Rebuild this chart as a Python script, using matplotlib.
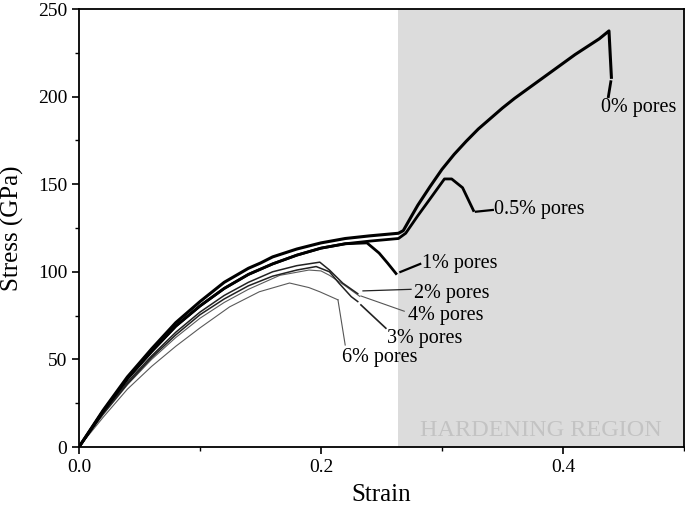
import matplotlib
matplotlib.use("Agg")
import matplotlib.pyplot as plt
from matplotlib.ticker import MultipleLocator

plt.rcParams['font.family'] = ['Liberation Serif', 'DejaVu Serif']

# curve data (strain, stress in GPa)
strain_0 = [0, 0.02, 0.04, 0.06, 0.08, 0.10, 0.12, 0.14, 0.15, 0.16, 0.18, 0.20, 0.22, 0.24, 0.264,
            0.268, 0.275, 0.28, 0.29, 0.30, 0.31, 0.32, 0.33, 0.34, 0.35, 0.36, 0.37, 0.38, 0.39,
            0.40, 0.41, 0.42, 0.43, 0.438, 0.440]
stress_0 = [0, 21, 40, 56, 71, 83, 94, 102, 105, 108.5, 113, 116.5, 119, 120.5, 122,
            123.5, 132, 138, 148.5, 158.5, 167, 174.5, 181.5, 187.5, 193.5, 199, 204, 209, 214,
            219, 224, 228.5, 233, 237.5, 211]

strain_05 = [0, 0.02, 0.04, 0.06, 0.08, 0.10, 0.12, 0.14, 0.16, 0.18, 0.20, 0.22, 0.24, 0.264,
             0.27, 0.28, 0.29, 0.302, 0.308, 0.317, 0.326]
stress_05 = [0, 20.5, 39, 54.5, 69, 80.5, 90.5, 98.5, 104.5, 109.5, 113.5, 116, 117.5, 119,
             122, 132, 141.5, 153, 153, 148, 135]

strain_1 = [0, 0.02, 0.04, 0.06, 0.08, 0.10, 0.12, 0.14, 0.16, 0.18, 0.20, 0.22, 0.238,
            0.248, 0.255, 0.262]
stress_1 = [0, 20.5, 39, 54.5, 69, 80.5, 90.5, 98.5, 104.5, 109.5, 113.5, 116, 116.5,
            110.7, 105, 99]

strain_2 = [0, 0.02, 0.04, 0.06, 0.08, 0.10, 0.12, 0.14, 0.16, 0.18, 0.199, 0.207, 0.218, 0.2304]
stress_2 = [0, 19.5, 37, 52, 65.5, 77, 86.5, 94, 100, 103.5, 105.5, 101, 93.5, 87.5]

strain_3 = [0, 0.02, 0.04, 0.06, 0.08, 0.10, 0.12, 0.14, 0.16, 0.18, 0.196, 0.207, 0.215, 0.225, 0.2304]
stress_3 = [0, 19, 36, 51, 64, 75.5, 84.5, 92, 97.5, 101, 103, 100, 93.4, 85.8, 83]

strain_4 = [0, 0.02, 0.04, 0.06, 0.08, 0.10, 0.12, 0.14, 0.166, 0.175, 0.19, 0.20, 0.207, 0.22, 0.232]
stress_4 = [0, 18.5, 35.5, 50, 62.5, 73.5, 82.5, 90, 98, 99.1, 101, 100.5, 98, 92, 86]

strain_6 = [0, 0.02, 0.04, 0.06, 0.08, 0.10, 0.1245, 0.149, 0.174, 0.19, 0.199, 0.214]
stress_6 = [0, 17, 33, 46, 57.5, 68, 80, 88.6, 93.6, 91, 88.6, 84]

# leader lines: (x0, y0, x1, y1) and label anchors
labels = ["0% pores", "0.5% pores", "1% pores", "2% pores", "4% pores", "3% pores", "6% pores"]
leaders = [(0.4395, 208.5, 0.4375, 200), (0.328, 134.3, 0.342, 135.3), (0.2656, 99.9, 0.282, 104.5),
           (0.2347, 89.1, 0.2744, 90), (0.233, 86.2, 0.2688, 77.5), (0.233, 81.1, 0.2536, 67.8),
           (0.214, 84, 0.220, 58.2)]
label_pos = [(0.4318, 193.8), (0.343, 135.3), (0.2834, 104.5), (0.2772, 87.7), (0.2716, 75.3),
             (0.2548, 62.2), (0.2177, 50.8)]
label_colors = ["black", "black", "black", "#222222", "#555555", "#222222", "#555555"]
leader_lw = [2.0, 1.6, 1.6, 0.9, 0.8, 1.2, 0.8]

hard_start = 0.2636

fig = plt.figure(figsize=(6.85, 5.05), dpi=100)
ax = fig.add_axes([79 / 685, 1 - 447 / 505, 605 / 685, 438 / 505])

ax.axvspan(hard_start, 0.5, color="#dcdcdc", zorder=0, lw=0)
ax.text(0.382, 9.5, "HARDENING REGION", fontsize=17.5, color="#c3c3c3", ha="center", va="center")

ax.plot(strain_6, stress_6, color="#5a5a5a", lw=0.8)
ax.plot(strain_4, stress_4, color="#5a5a5a", lw=0.8)
ax.plot(strain_3, stress_3, color="#222222", lw=1.1)
ax.plot(strain_2, stress_2, color="#222222", lw=1.1)
ax.plot(strain_1, stress_1, color="black", lw=2.0, solid_joinstyle="round")
ax.plot(strain_05, stress_05, color="black", lw=2.0, solid_joinstyle="round")
ax.plot(strain_0, stress_0, color="black", lw=2.2, solid_joinstyle="round")

for (x0, y0, x1, y1), c, lw in zip(leaders, label_colors, leader_lw):
    ax.plot([x0, x1], [y0, y1], color=c, lw=lw)
for lab, (lx, ly) in zip(labels, label_pos):
    ax.text(lx, ly, lab, fontsize=14.5, ha="left", va="center")

ax.set_xlim(0, 0.5)
ax.set_ylim(0, 250)
ax.xaxis.set_major_locator(MultipleLocator(0.2))
ax.xaxis.set_minor_locator(MultipleLocator(0.1))
ax.yaxis.set_major_locator(MultipleLocator(50))
ax.yaxis.set_minor_locator(MultipleLocator(25))
ax.xaxis.set_major_formatter(plt.FuncFormatter(lambda v, p: f"{v:.1f}"))
ax.tick_params(which="major", direction="out", length=5, width=1.2, labelsize=14, top=False, right=False)
ax.tick_params(which="minor", direction="out", length=3, width=1.0, top=False, right=False)
for s in ax.spines.values():
    s.set_linewidth(1.3)

ax.set_xlabel("Strain", fontsize=18, labelpad=6)
ax.set_ylabel("Stress (GPa)", fontsize=18, labelpad=10)

fig.savefig("out.png", dpi=100)
